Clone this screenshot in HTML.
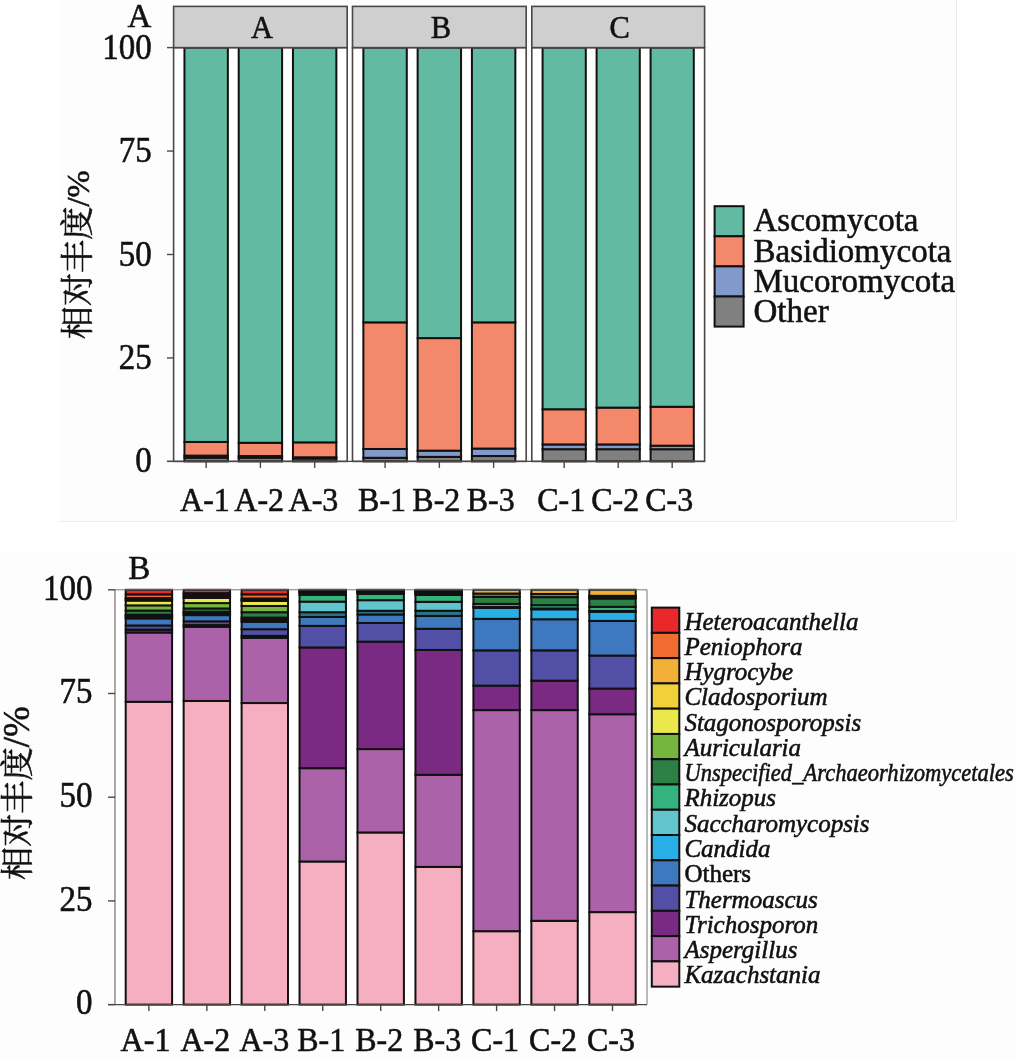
<!DOCTYPE html>
<html lang="zh"><head><meta charset="utf-8"><title>Relative abundance</title>
<style>html,body{margin:0;padding:0;background:#fff}body{width:1016px;height:1061px;overflow:hidden}svg{display:block;filter:blur(.65px)}text{stroke:#111;stroke-width:.55px}</style>
</head><body>
<svg width="1016" height="1061" viewBox="0 0 1016 1061" font-family='"Liberation Serif","Noto Serif CJK SC",serif' fill="#111">
<rect x="59.00" y="0.00" width="897.00" height="521.00" fill="#fdfdfd"/>
<line x1="59.00" y1="521.50" x2="956.00" y2="521.50" stroke="#ececec" stroke-width="1"/>
<line x1="956.50" y1="0.00" x2="956.50" y2="521.00" stroke="#ececec" stroke-width="1"/>
<rect x="173.60" y="47.60" width="173.60" height="413.80" fill="#ffffff"/>
<rect x="184.45" y="457.68" width="43.40" height="3.72" fill="#808080" stroke="#111" stroke-width="2.0"/>
<rect x="184.45" y="455.61" width="43.40" height="2.07" fill="#8299cb" stroke="#111" stroke-width="2.0"/>
<rect x="184.45" y="441.95" width="43.40" height="13.66" fill="#f4886a" stroke="#111" stroke-width="2.0"/>
<rect x="184.45" y="47.60" width="43.40" height="394.35" fill="#63baa2" stroke="#111" stroke-width="2.0"/>
<line x1="206.15" y1="461.40" x2="206.15" y2="467.90" stroke="#4e4545" stroke-width="1.4"/>
<text transform="translate(204.95,510.8) scale(1,1.07)" font-size="32" text-anchor="middle">A-1</text>
<rect x="238.70" y="457.68" width="43.40" height="3.72" fill="#808080" stroke="#111" stroke-width="2.0"/>
<rect x="238.70" y="456.02" width="43.40" height="1.66" fill="#8299cb" stroke="#111" stroke-width="2.0"/>
<rect x="238.70" y="442.78" width="43.40" height="13.24" fill="#f4886a" stroke="#111" stroke-width="2.0"/>
<rect x="238.70" y="47.60" width="43.40" height="395.18" fill="#63baa2" stroke="#111" stroke-width="2.0"/>
<line x1="260.40" y1="461.40" x2="260.40" y2="467.90" stroke="#4e4545" stroke-width="1.4"/>
<text transform="translate(259.20,510.8) scale(1,1.07)" font-size="32" text-anchor="middle">A-2</text>
<rect x="292.95" y="458.50" width="43.40" height="2.90" fill="#808080" stroke="#111" stroke-width="2.0"/>
<rect x="292.95" y="457.26" width="43.40" height="1.24" fill="#8299cb" stroke="#111" stroke-width="2.0"/>
<rect x="292.95" y="442.37" width="43.40" height="14.90" fill="#f4886a" stroke="#111" stroke-width="2.0"/>
<rect x="292.95" y="47.60" width="43.40" height="394.77" fill="#63baa2" stroke="#111" stroke-width="2.0"/>
<line x1="314.65" y1="461.40" x2="314.65" y2="467.90" stroke="#4e4545" stroke-width="1.4"/>
<text transform="translate(313.45,510.8) scale(1,1.07)" font-size="32" text-anchor="middle">A-3</text>
<rect x="173.60" y="47.60" width="173.60" height="413.80" fill="none" stroke="#4e4545" stroke-width="1.6"/>
<rect x="173.60" y="6.40" width="173.60" height="41.20" fill="#cfcfcf" stroke="#4e4545" stroke-width="1.6"/>
<text x="261.90" y="37.60" font-size="30.5" text-anchor="middle">A</text>
<rect x="352.50" y="47.60" width="173.70" height="413.80" fill="#ffffff"/>
<rect x="363.36" y="457.80" width="43.43" height="3.60" fill="#808080" stroke="#111" stroke-width="2.0"/>
<rect x="363.36" y="448.99" width="43.43" height="8.81" fill="#8299cb" stroke="#111" stroke-width="2.0"/>
<rect x="363.36" y="322.36" width="43.43" height="126.62" fill="#f4886a" stroke="#111" stroke-width="2.0"/>
<rect x="363.36" y="47.60" width="43.43" height="274.76" fill="#63baa2" stroke="#111" stroke-width="2.0"/>
<line x1="385.07" y1="461.40" x2="385.07" y2="467.90" stroke="#4e4545" stroke-width="1.4"/>
<text transform="translate(382.07,510.8) scale(1,1.07)" font-size="32" text-anchor="middle">B-1</text>
<rect x="417.64" y="456.85" width="43.43" height="4.55" fill="#808080" stroke="#111" stroke-width="2.0"/>
<rect x="417.64" y="450.64" width="43.43" height="6.21" fill="#8299cb" stroke="#111" stroke-width="2.0"/>
<rect x="417.64" y="338.09" width="43.43" height="112.55" fill="#f4886a" stroke="#111" stroke-width="2.0"/>
<rect x="417.64" y="47.60" width="43.43" height="290.49" fill="#63baa2" stroke="#111" stroke-width="2.0"/>
<line x1="439.35" y1="461.40" x2="439.35" y2="467.90" stroke="#4e4545" stroke-width="1.4"/>
<text transform="translate(436.35,510.8) scale(1,1.07)" font-size="32" text-anchor="middle">B-2</text>
<rect x="471.92" y="456.02" width="43.43" height="5.38" fill="#808080" stroke="#111" stroke-width="2.0"/>
<rect x="471.92" y="448.57" width="43.43" height="7.45" fill="#8299cb" stroke="#111" stroke-width="2.0"/>
<rect x="471.92" y="322.36" width="43.43" height="126.21" fill="#f4886a" stroke="#111" stroke-width="2.0"/>
<rect x="471.92" y="47.60" width="43.43" height="274.76" fill="#63baa2" stroke="#111" stroke-width="2.0"/>
<line x1="493.63" y1="461.40" x2="493.63" y2="467.90" stroke="#4e4545" stroke-width="1.4"/>
<text transform="translate(490.63,510.8) scale(1,1.07)" font-size="32" text-anchor="middle">B-3</text>
<rect x="352.50" y="47.60" width="173.70" height="413.80" fill="none" stroke="#4e4545" stroke-width="1.6"/>
<rect x="352.50" y="6.40" width="173.70" height="41.20" fill="#cfcfcf" stroke="#4e4545" stroke-width="1.6"/>
<text x="440.85" y="37.60" font-size="30.5" text-anchor="middle">B</text>
<rect x="531.80" y="47.60" width="172.80" height="413.80" fill="#ffffff"/>
<rect x="542.60" y="449.19" width="43.20" height="12.21" fill="#808080" stroke="#111" stroke-width="2.0"/>
<rect x="542.60" y="444.43" width="43.20" height="4.76" fill="#8299cb" stroke="#111" stroke-width="2.0"/>
<rect x="542.60" y="409.26" width="43.20" height="35.17" fill="#f4886a" stroke="#111" stroke-width="2.0"/>
<rect x="542.60" y="47.60" width="43.20" height="361.66" fill="#63baa2" stroke="#111" stroke-width="2.0"/>
<line x1="564.20" y1="461.40" x2="564.20" y2="467.90" stroke="#4e4545" stroke-width="1.4"/>
<text transform="translate(561.20,510.8) scale(1,1.07)" font-size="32" text-anchor="middle">C-1</text>
<rect x="596.60" y="449.19" width="43.20" height="12.21" fill="#808080" stroke="#111" stroke-width="2.0"/>
<rect x="596.60" y="444.43" width="43.20" height="4.76" fill="#8299cb" stroke="#111" stroke-width="2.0"/>
<rect x="596.60" y="407.61" width="43.20" height="36.83" fill="#f4886a" stroke="#111" stroke-width="2.0"/>
<rect x="596.60" y="47.60" width="43.20" height="360.01" fill="#63baa2" stroke="#111" stroke-width="2.0"/>
<line x1="618.20" y1="461.40" x2="618.20" y2="467.90" stroke="#4e4545" stroke-width="1.4"/>
<text transform="translate(615.20,510.8) scale(1,1.07)" font-size="32" text-anchor="middle">C-2</text>
<rect x="650.60" y="449.19" width="43.20" height="12.21" fill="#808080" stroke="#111" stroke-width="2.0"/>
<rect x="650.60" y="445.68" width="43.20" height="3.52" fill="#8299cb" stroke="#111" stroke-width="2.0"/>
<rect x="650.60" y="406.78" width="43.20" height="38.90" fill="#f4886a" stroke="#111" stroke-width="2.0"/>
<rect x="650.60" y="47.60" width="43.20" height="359.18" fill="#63baa2" stroke="#111" stroke-width="2.0"/>
<line x1="672.20" y1="461.40" x2="672.20" y2="467.90" stroke="#4e4545" stroke-width="1.4"/>
<text transform="translate(669.20,510.8) scale(1,1.07)" font-size="32" text-anchor="middle">C-3</text>
<rect x="531.80" y="47.60" width="172.80" height="413.80" fill="none" stroke="#4e4545" stroke-width="1.6"/>
<rect x="531.80" y="6.40" width="172.80" height="41.20" fill="#cfcfcf" stroke="#4e4545" stroke-width="1.6"/>
<text x="619.70" y="37.60" font-size="30.5" text-anchor="middle">C</text>
<line x1="167.00" y1="461.40" x2="173.40" y2="461.40" stroke="#4e4545" stroke-width="1.4"/>
<text transform="translate(151.7,472.40) scale(1,1.1)" font-size="33" text-anchor="end">0</text>
<line x1="167.00" y1="357.95" x2="173.40" y2="357.95" stroke="#4e4545" stroke-width="1.4"/>
<text transform="translate(151.7,368.95) scale(1,1.1)" font-size="33" text-anchor="end">25</text>
<line x1="167.00" y1="254.50" x2="173.40" y2="254.50" stroke="#4e4545" stroke-width="1.4"/>
<text transform="translate(151.7,265.50) scale(1,1.1)" font-size="33" text-anchor="end">50</text>
<line x1="167.00" y1="151.05" x2="173.40" y2="151.05" stroke="#4e4545" stroke-width="1.4"/>
<text transform="translate(151.7,162.05) scale(1,1.1)" font-size="33" text-anchor="end">75</text>
<line x1="167.00" y1="47.60" x2="173.40" y2="47.60" stroke="#4e4545" stroke-width="1.4"/>
<text transform="translate(151.7,58.60) scale(1,1.1)" font-size="33" text-anchor="end">100</text>
<line x1="167.00" y1="461.40" x2="704.50" y2="461.40" stroke="#4e4545" stroke-width="1.4"/>
<text x="127.50" y="26.80" font-size="33" text-anchor="start">A</text>
<text transform="translate(88.5,339.3) rotate(-90)" font-size="33.2">相对丰度<tspan font-size="32.5">/%</tspan></text>
<rect x="714.60" y="206.20" width="29.00" height="30.10" fill="#63baa2" stroke="#111" stroke-width="2.0"/>
<text x="753.50" y="231.30" font-size="33" text-anchor="start">Ascomycota</text>
<rect x="714.60" y="236.30" width="29.00" height="30.10" fill="#f4886a" stroke="#111" stroke-width="2.0"/>
<text x="753.50" y="261.60" font-size="33" text-anchor="start">Basidiomycota</text>
<rect x="714.60" y="266.40" width="29.00" height="30.10" fill="#8299cb" stroke="#111" stroke-width="2.0"/>
<text x="753.50" y="291.90" font-size="33" text-anchor="start">Mucoromycota</text>
<rect x="714.60" y="296.50" width="29.00" height="30.10" fill="#808080" stroke="#111" stroke-width="2.0"/>
<text x="753.50" y="322.20" font-size="33" text-anchor="start">Other</text>
<rect x="0.00" y="552.00" width="1016.00" height="509.00" fill="#fdfdfd"/>
<rect x="115.00" y="589.80" width="532.00" height="414.80" fill="#ffffff"/>
<rect x="125.70" y="701.80" width="46.40" height="302.80" fill="#f5afc0" stroke="#111" stroke-width="2.0"/>
<rect x="125.70" y="632.52" width="46.40" height="69.27" fill="#ac62a8" stroke="#111" stroke-width="2.0"/>
<rect x="125.70" y="629.62" width="46.40" height="2.90" fill="#7a2a82" stroke="#111" stroke-width="2.0"/>
<rect x="125.70" y="625.47" width="46.40" height="4.15" fill="#5250a6" stroke="#111" stroke-width="2.0"/>
<rect x="125.70" y="618.42" width="46.40" height="7.05" fill="#3e78be" stroke="#111" stroke-width="2.0"/>
<rect x="125.70" y="617.18" width="46.40" height="1.24" fill="#28b0e6" stroke="#111" stroke-width="2.0"/>
<rect x="125.70" y="615.93" width="46.40" height="1.24" fill="#62c4cc" stroke="#111" stroke-width="2.0"/>
<rect x="125.70" y="614.69" width="46.40" height="1.24" fill="#35b37e" stroke="#111" stroke-width="2.0"/>
<rect x="125.70" y="610.54" width="46.40" height="4.15" fill="#2c8046" stroke="#111" stroke-width="2.0"/>
<rect x="125.70" y="605.36" width="46.40" height="5.18" fill="#76b63e" stroke="#111" stroke-width="2.0"/>
<rect x="125.70" y="600.58" width="46.40" height="4.77" fill="#ebe84c" stroke="#111" stroke-width="2.0"/>
<rect x="125.70" y="599.34" width="46.40" height="1.24" fill="#f2d03a" stroke="#111" stroke-width="2.0"/>
<rect x="125.70" y="598.10" width="46.40" height="1.24" fill="#f3b038" stroke="#111" stroke-width="2.0"/>
<rect x="125.70" y="594.36" width="46.40" height="3.73" fill="#f06c30" stroke="#111" stroke-width="2.0"/>
<rect x="125.70" y="589.80" width="46.40" height="4.56" fill="#e8282a" stroke="#111" stroke-width="2.0"/>
<line x1="148.90" y1="1004.60" x2="148.90" y2="1011.10" stroke="#4e4545" stroke-width="1.4"/>
<text transform="translate(145.50,1051.4) scale(1,1.08)" font-size="32" text-anchor="middle">A-1</text>
<rect x="183.65" y="700.97" width="46.40" height="303.63" fill="#f5afc0" stroke="#111" stroke-width="2.0"/>
<rect x="183.65" y="626.72" width="46.40" height="74.25" fill="#ac62a8" stroke="#111" stroke-width="2.0"/>
<rect x="183.65" y="625.06" width="46.40" height="1.66" fill="#7a2a82" stroke="#111" stroke-width="2.0"/>
<rect x="183.65" y="621.32" width="46.40" height="3.73" fill="#5250a6" stroke="#111" stroke-width="2.0"/>
<rect x="183.65" y="615.10" width="46.40" height="6.22" fill="#3e78be" stroke="#111" stroke-width="2.0"/>
<rect x="183.65" y="613.86" width="46.40" height="1.24" fill="#28b0e6" stroke="#111" stroke-width="2.0"/>
<rect x="183.65" y="612.61" width="46.40" height="1.24" fill="#62c4cc" stroke="#111" stroke-width="2.0"/>
<rect x="183.65" y="611.78" width="46.40" height="0.83" fill="#35b37e" stroke="#111" stroke-width="2.0"/>
<rect x="183.65" y="608.47" width="46.40" height="3.32" fill="#2c8046" stroke="#111" stroke-width="2.0"/>
<rect x="183.65" y="603.07" width="46.40" height="5.39" fill="#76b63e" stroke="#111" stroke-width="2.0"/>
<rect x="183.65" y="597.85" width="46.40" height="5.23" fill="#ebe84c" stroke="#111" stroke-width="2.0"/>
<rect x="183.65" y="596.44" width="46.40" height="1.41" fill="#f2d03a" stroke="#111" stroke-width="2.0"/>
<rect x="183.65" y="594.78" width="46.40" height="1.66" fill="#f3b038" stroke="#111" stroke-width="2.0"/>
<rect x="183.65" y="593.12" width="46.40" height="1.66" fill="#f06c30" stroke="#111" stroke-width="2.0"/>
<rect x="183.65" y="589.80" width="46.40" height="3.32" fill="#e8282a" stroke="#111" stroke-width="2.0"/>
<line x1="206.85" y1="1004.60" x2="206.85" y2="1011.10" stroke="#4e4545" stroke-width="1.4"/>
<text transform="translate(205.35,1051.4) scale(1,1.08)" font-size="32" text-anchor="middle">A-2</text>
<rect x="241.60" y="703.04" width="46.40" height="301.56" fill="#f5afc0" stroke="#111" stroke-width="2.0"/>
<rect x="241.60" y="637.92" width="46.40" height="65.12" fill="#ac62a8" stroke="#111" stroke-width="2.0"/>
<rect x="241.60" y="635.84" width="46.40" height="2.07" fill="#7a2a82" stroke="#111" stroke-width="2.0"/>
<rect x="241.60" y="629.21" width="46.40" height="6.64" fill="#5250a6" stroke="#111" stroke-width="2.0"/>
<rect x="241.60" y="621.74" width="46.40" height="7.47" fill="#3e78be" stroke="#111" stroke-width="2.0"/>
<rect x="241.60" y="620.50" width="46.40" height="1.24" fill="#28b0e6" stroke="#111" stroke-width="2.0"/>
<rect x="241.60" y="618.84" width="46.40" height="1.66" fill="#62c4cc" stroke="#111" stroke-width="2.0"/>
<rect x="241.60" y="617.59" width="46.40" height="1.24" fill="#35b37e" stroke="#111" stroke-width="2.0"/>
<rect x="241.60" y="612.20" width="46.40" height="5.39" fill="#2c8046" stroke="#111" stroke-width="2.0"/>
<rect x="241.60" y="605.98" width="46.40" height="6.22" fill="#76b63e" stroke="#111" stroke-width="2.0"/>
<rect x="241.60" y="601.00" width="46.40" height="4.98" fill="#ebe84c" stroke="#111" stroke-width="2.0"/>
<rect x="241.60" y="599.76" width="46.40" height="1.24" fill="#f2d03a" stroke="#111" stroke-width="2.0"/>
<rect x="241.60" y="598.51" width="46.40" height="1.24" fill="#f3b038" stroke="#111" stroke-width="2.0"/>
<rect x="241.60" y="594.36" width="46.40" height="4.15" fill="#f06c30" stroke="#111" stroke-width="2.0"/>
<rect x="241.60" y="589.80" width="46.40" height="4.56" fill="#e8282a" stroke="#111" stroke-width="2.0"/>
<line x1="264.80" y1="1004.60" x2="264.80" y2="1011.10" stroke="#4e4545" stroke-width="1.4"/>
<text transform="translate(264.30,1051.4) scale(1,1.08)" font-size="32" text-anchor="middle">A-3</text>
<rect x="299.55" y="861.49" width="46.40" height="143.11" fill="#f5afc0" stroke="#111" stroke-width="2.0"/>
<rect x="299.55" y="768.16" width="46.40" height="93.33" fill="#ac62a8" stroke="#111" stroke-width="2.0"/>
<rect x="299.55" y="647.46" width="46.40" height="120.71" fill="#7a2a82" stroke="#111" stroke-width="2.0"/>
<rect x="299.55" y="625.89" width="46.40" height="21.57" fill="#5250a6" stroke="#111" stroke-width="2.0"/>
<rect x="299.55" y="616.97" width="46.40" height="8.92" fill="#3e78be" stroke="#111" stroke-width="2.0"/>
<rect x="299.55" y="612.20" width="46.40" height="4.77" fill="#2a7488" stroke="#111" stroke-width="2.0"/>
<rect x="299.55" y="601.62" width="46.40" height="10.58" fill="#62c4cc" stroke="#111" stroke-width="2.0"/>
<rect x="299.55" y="594.78" width="46.40" height="6.84" fill="#35b37e" stroke="#111" stroke-width="2.0"/>
<rect x="299.55" y="593.53" width="46.40" height="1.24" fill="#2c8046" stroke="#111" stroke-width="2.0"/>
<rect x="299.55" y="592.70" width="46.40" height="0.83" fill="#76b63e" stroke="#111" stroke-width="2.0"/>
<rect x="299.55" y="591.87" width="46.40" height="0.83" fill="#ebe84c" stroke="#111" stroke-width="2.0"/>
<rect x="299.55" y="591.46" width="46.40" height="0.41" fill="#f2d03a" stroke="#111" stroke-width="2.0"/>
<rect x="299.55" y="590.84" width="46.40" height="0.62" fill="#f3b038" stroke="#111" stroke-width="2.0"/>
<rect x="299.55" y="590.21" width="46.40" height="0.62" fill="#f06c30" stroke="#111" stroke-width="2.0"/>
<rect x="299.55" y="589.80" width="46.40" height="0.41" fill="#e8282a" stroke="#111" stroke-width="2.0"/>
<line x1="322.75" y1="1004.60" x2="322.75" y2="1011.10" stroke="#4e4545" stroke-width="1.4"/>
<text transform="translate(321.25,1051.4) scale(1,1.08)" font-size="32" text-anchor="middle">B-1</text>
<rect x="357.50" y="832.46" width="46.40" height="172.14" fill="#f5afc0" stroke="#111" stroke-width="2.0"/>
<rect x="357.50" y="749.08" width="46.40" height="83.37" fill="#ac62a8" stroke="#111" stroke-width="2.0"/>
<rect x="357.50" y="641.65" width="46.40" height="107.43" fill="#7a2a82" stroke="#111" stroke-width="2.0"/>
<rect x="357.50" y="622.98" width="46.40" height="18.67" fill="#5250a6" stroke="#111" stroke-width="2.0"/>
<rect x="357.50" y="614.48" width="46.40" height="8.50" fill="#3e78be" stroke="#111" stroke-width="2.0"/>
<rect x="357.50" y="610.75" width="46.40" height="3.73" fill="#2a7488" stroke="#111" stroke-width="2.0"/>
<rect x="357.50" y="600.17" width="46.40" height="10.58" fill="#62c4cc" stroke="#111" stroke-width="2.0"/>
<rect x="357.50" y="593.95" width="46.40" height="6.22" fill="#35b37e" stroke="#111" stroke-width="2.0"/>
<rect x="357.50" y="592.91" width="46.40" height="1.04" fill="#2c8046" stroke="#111" stroke-width="2.0"/>
<rect x="357.50" y="592.29" width="46.40" height="0.62" fill="#76b63e" stroke="#111" stroke-width="2.0"/>
<rect x="357.50" y="591.67" width="46.40" height="0.62" fill="#ebe84c" stroke="#111" stroke-width="2.0"/>
<rect x="357.50" y="591.04" width="46.40" height="0.62" fill="#f2d03a" stroke="#111" stroke-width="2.0"/>
<rect x="357.50" y="590.63" width="46.40" height="0.41" fill="#f3b038" stroke="#111" stroke-width="2.0"/>
<rect x="357.50" y="590.21" width="46.40" height="0.41" fill="#f06c30" stroke="#111" stroke-width="2.0"/>
<rect x="357.50" y="589.80" width="46.40" height="0.41" fill="#e8282a" stroke="#111" stroke-width="2.0"/>
<line x1="380.70" y1="1004.60" x2="380.70" y2="1011.10" stroke="#4e4545" stroke-width="1.4"/>
<text transform="translate(379.20,1051.4) scale(1,1.08)" font-size="32" text-anchor="middle">B-2</text>
<rect x="415.45" y="866.89" width="46.40" height="137.71" fill="#f5afc0" stroke="#111" stroke-width="2.0"/>
<rect x="415.45" y="774.80" width="46.40" height="92.09" fill="#ac62a8" stroke="#111" stroke-width="2.0"/>
<rect x="415.45" y="649.95" width="46.40" height="124.85" fill="#7a2a82" stroke="#111" stroke-width="2.0"/>
<rect x="415.45" y="628.79" width="46.40" height="21.15" fill="#5250a6" stroke="#111" stroke-width="2.0"/>
<rect x="415.45" y="615.93" width="46.40" height="12.86" fill="#3e78be" stroke="#111" stroke-width="2.0"/>
<rect x="415.45" y="610.75" width="46.40" height="5.18" fill="#2a7488" stroke="#111" stroke-width="2.0"/>
<rect x="415.45" y="601.83" width="46.40" height="8.92" fill="#62c4cc" stroke="#111" stroke-width="2.0"/>
<rect x="415.45" y="594.98" width="46.40" height="6.84" fill="#35b37e" stroke="#111" stroke-width="2.0"/>
<rect x="415.45" y="593.95" width="46.40" height="1.04" fill="#2c8046" stroke="#111" stroke-width="2.0"/>
<rect x="415.45" y="592.91" width="46.40" height="1.04" fill="#76b63e" stroke="#111" stroke-width="2.0"/>
<rect x="415.45" y="592.08" width="46.40" height="0.83" fill="#ebe84c" stroke="#111" stroke-width="2.0"/>
<rect x="415.45" y="591.46" width="46.40" height="0.62" fill="#f2d03a" stroke="#111" stroke-width="2.0"/>
<rect x="415.45" y="590.84" width="46.40" height="0.62" fill="#f3b038" stroke="#111" stroke-width="2.0"/>
<rect x="415.45" y="590.21" width="46.40" height="0.62" fill="#f06c30" stroke="#111" stroke-width="2.0"/>
<rect x="415.45" y="589.80" width="46.40" height="0.41" fill="#e8282a" stroke="#111" stroke-width="2.0"/>
<line x1="438.65" y1="1004.60" x2="438.65" y2="1011.10" stroke="#4e4545" stroke-width="1.4"/>
<text transform="translate(437.15,1051.4) scale(1,1.08)" font-size="32" text-anchor="middle">B-3</text>
<rect x="473.40" y="931.18" width="46.40" height="73.42" fill="#f5afc0" stroke="#111" stroke-width="2.0"/>
<rect x="473.40" y="710.09" width="46.40" height="221.09" fill="#ac62a8" stroke="#111" stroke-width="2.0"/>
<rect x="473.40" y="685.62" width="46.40" height="24.47" fill="#7a2a82" stroke="#111" stroke-width="2.0"/>
<rect x="473.40" y="650.36" width="46.40" height="35.26" fill="#5250a6" stroke="#111" stroke-width="2.0"/>
<rect x="473.40" y="618.84" width="46.40" height="31.52" fill="#3e78be" stroke="#111" stroke-width="2.0"/>
<rect x="473.40" y="607.84" width="46.40" height="10.99" fill="#28b0e6" stroke="#111" stroke-width="2.0"/>
<rect x="473.40" y="607.01" width="46.40" height="0.83" fill="#62c4cc" stroke="#111" stroke-width="2.0"/>
<rect x="473.40" y="603.90" width="46.40" height="3.11" fill="#35b37e" stroke="#111" stroke-width="2.0"/>
<rect x="473.40" y="596.85" width="46.40" height="7.05" fill="#2c8046" stroke="#111" stroke-width="2.0"/>
<rect x="473.40" y="593.53" width="46.40" height="3.32" fill="#7d8436" stroke="#111" stroke-width="2.0"/>
<rect x="473.40" y="589.80" width="46.40" height="3.73" fill="#f3b038" stroke="#111" stroke-width="2.0"/>
<line x1="496.60" y1="1004.60" x2="496.60" y2="1011.10" stroke="#4e4545" stroke-width="1.4"/>
<text transform="translate(495.10,1051.4) scale(1,1.08)" font-size="32" text-anchor="middle">C-1</text>
<rect x="531.35" y="920.81" width="46.40" height="83.79" fill="#f5afc0" stroke="#111" stroke-width="2.0"/>
<rect x="531.35" y="710.09" width="46.40" height="210.72" fill="#ac62a8" stroke="#111" stroke-width="2.0"/>
<rect x="531.35" y="680.64" width="46.40" height="29.45" fill="#7a2a82" stroke="#111" stroke-width="2.0"/>
<rect x="531.35" y="650.36" width="46.40" height="30.28" fill="#5250a6" stroke="#111" stroke-width="2.0"/>
<rect x="531.35" y="619.25" width="46.40" height="31.11" fill="#3e78be" stroke="#111" stroke-width="2.0"/>
<rect x="531.35" y="609.30" width="46.40" height="9.96" fill="#28b0e6" stroke="#111" stroke-width="2.0"/>
<rect x="531.35" y="608.47" width="46.40" height="0.83" fill="#62c4cc" stroke="#111" stroke-width="2.0"/>
<rect x="531.35" y="605.15" width="46.40" height="3.32" fill="#35b37e" stroke="#111" stroke-width="2.0"/>
<rect x="531.35" y="597.10" width="46.40" height="8.05" fill="#2c8046" stroke="#111" stroke-width="2.0"/>
<rect x="531.35" y="593.95" width="46.40" height="3.15" fill="#7d8436" stroke="#111" stroke-width="2.0"/>
<rect x="531.35" y="589.80" width="46.40" height="4.15" fill="#f3b038" stroke="#111" stroke-width="2.0"/>
<line x1="554.55" y1="1004.60" x2="554.55" y2="1011.10" stroke="#4e4545" stroke-width="1.4"/>
<text transform="translate(553.05,1051.4) scale(1,1.08)" font-size="32" text-anchor="middle">C-2</text>
<rect x="589.30" y="912.10" width="46.40" height="92.50" fill="#f5afc0" stroke="#111" stroke-width="2.0"/>
<rect x="589.30" y="714.24" width="46.40" height="197.86" fill="#ac62a8" stroke="#111" stroke-width="2.0"/>
<rect x="589.30" y="688.52" width="46.40" height="25.72" fill="#7a2a82" stroke="#111" stroke-width="2.0"/>
<rect x="589.30" y="655.55" width="46.40" height="32.98" fill="#5250a6" stroke="#111" stroke-width="2.0"/>
<rect x="589.30" y="620.91" width="46.40" height="34.64" fill="#3e78be" stroke="#111" stroke-width="2.0"/>
<rect x="589.30" y="611.78" width="46.40" height="9.13" fill="#28b0e6" stroke="#111" stroke-width="2.0"/>
<rect x="589.30" y="610.95" width="46.40" height="0.83" fill="#62c4cc" stroke="#111" stroke-width="2.0"/>
<rect x="589.30" y="606.81" width="46.40" height="4.15" fill="#35b37e" stroke="#111" stroke-width="2.0"/>
<rect x="589.30" y="598.51" width="46.40" height="8.30" fill="#2c8046" stroke="#111" stroke-width="2.0"/>
<rect x="589.30" y="597.68" width="46.40" height="0.83" fill="#76b63e" stroke="#111" stroke-width="2.0"/>
<rect x="589.30" y="596.85" width="46.40" height="0.83" fill="#ebe84c" stroke="#111" stroke-width="2.0"/>
<rect x="589.30" y="595.81" width="46.40" height="1.04" fill="#f2d03a" stroke="#111" stroke-width="2.0"/>
<rect x="589.30" y="589.80" width="46.40" height="6.01" fill="#f3b038" stroke="#111" stroke-width="2.0"/>
<line x1="612.50" y1="1004.60" x2="612.50" y2="1011.10" stroke="#4e4545" stroke-width="1.4"/>
<text transform="translate(611.00,1051.4) scale(1,1.08)" font-size="32" text-anchor="middle">C-3</text>
<line x1="115.00" y1="589.80" x2="647.00" y2="589.80" stroke="#777" stroke-width="1.0"/>
<line x1="647.00" y1="589.80" x2="647.00" y2="1004.60" stroke="#777" stroke-width="1.0"/>
<line x1="115.00" y1="589.80" x2="115.00" y2="1004.60" stroke="#6a6060" stroke-width="1.1"/>
<line x1="108.00" y1="1004.60" x2="647.00" y2="1004.60" stroke="#4e4545" stroke-width="1.4"/>
<line x1="108.00" y1="1004.60" x2="115.00" y2="1004.60" stroke="#4e4545" stroke-width="1.4"/>
<text transform="translate(92.5,1014.40) scale(1,1.1)" font-size="33" text-anchor="end">0</text>
<line x1="108.00" y1="900.90" x2="115.00" y2="900.90" stroke="#4e4545" stroke-width="1.4"/>
<text transform="translate(92.5,910.70) scale(1,1.1)" font-size="33" text-anchor="end">25</text>
<line x1="108.00" y1="797.20" x2="115.00" y2="797.20" stroke="#4e4545" stroke-width="1.4"/>
<text transform="translate(92.5,807.00) scale(1,1.1)" font-size="33" text-anchor="end">50</text>
<line x1="108.00" y1="693.50" x2="115.00" y2="693.50" stroke="#4e4545" stroke-width="1.4"/>
<text transform="translate(92.5,703.30) scale(1,1.1)" font-size="33" text-anchor="end">75</text>
<line x1="108.00" y1="589.80" x2="115.00" y2="589.80" stroke="#4e4545" stroke-width="1.4"/>
<text transform="translate(92.5,599.60) scale(1,1.1)" font-size="33" text-anchor="end">100</text>
<text x="128.30" y="579.30" font-size="33" text-anchor="start">B</text>
<text transform="translate(29.3,880) rotate(-90)" font-size="33.2">相对丰度<tspan font-size="37">/%</tspan></text>
<rect x="651.80" y="607.60" width="27.50" height="25.27" fill="#e8282a" stroke="#111" stroke-width="2.0"/>
<text x="684.40" y="629.60" font-size="25" text-anchor="start" font-style="italic">Heteroacanthella</text>
<rect x="651.80" y="632.87" width="27.50" height="25.27" fill="#f06c30" stroke="#111" stroke-width="2.0"/>
<text x="684.40" y="654.87" font-size="25" text-anchor="start" font-style="italic">Peniophora</text>
<rect x="651.80" y="658.14" width="27.50" height="25.27" fill="#f3b038" stroke="#111" stroke-width="2.0"/>
<text x="684.40" y="680.14" font-size="25" text-anchor="start" font-style="italic">Hygrocybe</text>
<rect x="651.80" y="683.41" width="27.50" height="25.27" fill="#f2d03a" stroke="#111" stroke-width="2.0"/>
<text x="684.40" y="705.41" font-size="25" text-anchor="start" font-style="italic">Cladosporium</text>
<rect x="651.80" y="708.68" width="27.50" height="25.27" fill="#ebe84c" stroke="#111" stroke-width="2.0"/>
<text x="684.40" y="730.68" font-size="25" text-anchor="start" font-style="italic">Stagonosporopsis</text>
<rect x="651.80" y="733.95" width="27.50" height="25.27" fill="#76b63e" stroke="#111" stroke-width="2.0"/>
<text x="684.40" y="755.95" font-size="25" text-anchor="start" font-style="italic">Auricularia</text>
<rect x="651.80" y="759.22" width="27.50" height="25.27" fill="#2c8046" stroke="#111" stroke-width="2.0"/>
<text x="684.40" y="781.22" font-size="25" text-anchor="start" font-style="italic" textLength="329.5" lengthAdjust="spacingAndGlyphs">Unspecified_Archaeorhizomycetales</text>
<rect x="651.80" y="784.49" width="27.50" height="25.27" fill="#35b37e" stroke="#111" stroke-width="2.0"/>
<text x="684.40" y="806.49" font-size="25" text-anchor="start" font-style="italic">Rhizopus</text>
<rect x="651.80" y="809.76" width="27.50" height="25.27" fill="#62c4cc" stroke="#111" stroke-width="2.0"/>
<text x="684.40" y="831.76" font-size="25" text-anchor="start" font-style="italic">Saccharomycopsis</text>
<rect x="651.80" y="835.03" width="27.50" height="25.27" fill="#28b0e6" stroke="#111" stroke-width="2.0"/>
<text x="684.40" y="857.03" font-size="25" text-anchor="start" font-style="italic">Candida</text>
<rect x="651.80" y="860.30" width="27.50" height="25.27" fill="#3e78be" stroke="#111" stroke-width="2.0"/>
<text x="684.40" y="882.30" font-size="25" text-anchor="start">Others</text>
<rect x="651.80" y="885.57" width="27.50" height="25.27" fill="#5250a6" stroke="#111" stroke-width="2.0"/>
<text x="684.40" y="907.57" font-size="25" text-anchor="start" font-style="italic">Thermoascus</text>
<rect x="651.80" y="910.84" width="27.50" height="25.27" fill="#7a2a82" stroke="#111" stroke-width="2.0"/>
<text x="684.40" y="932.84" font-size="25" text-anchor="start" font-style="italic">Trichosporon</text>
<rect x="651.80" y="936.11" width="27.50" height="25.27" fill="#ac62a8" stroke="#111" stroke-width="2.0"/>
<text x="684.40" y="958.11" font-size="25" text-anchor="start" font-style="italic">Aspergillus</text>
<rect x="651.80" y="961.38" width="27.50" height="25.27" fill="#f5afc0" stroke="#111" stroke-width="2.0"/>
<text x="684.40" y="983.38" font-size="25" text-anchor="start" font-style="italic">Kazachstania</text>
</svg>
</body></html>
